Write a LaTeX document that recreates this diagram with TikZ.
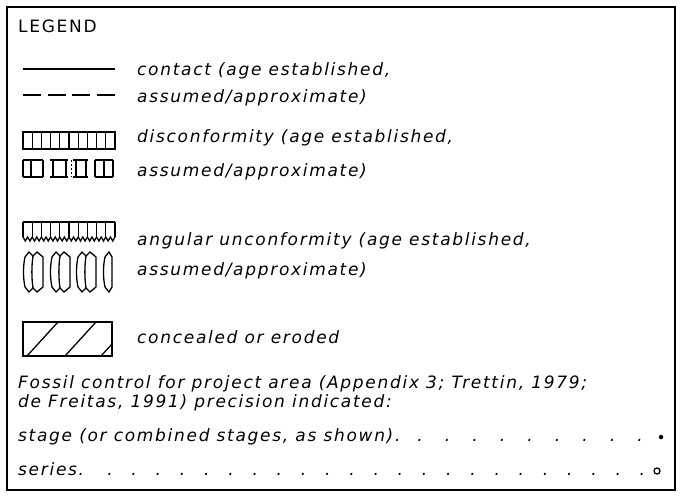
\documentclass[tikz,border=0pt]{standalone}
\usepackage{fontspec}
\setmainfont{DejaVu Sans}[LetterSpace=10]
\usetikzlibrary{positioning}
\usetikzlibrary{calc}

\begin{document}
\begin{tikzpicture}[x=1pt,y=-1pt]
\tikzstyle{legend text}=[anchor=base west,inner sep=0,font=\fontsize{17}{20}\selectfont\itshape]
\tikzstyle{title text}=[anchor=base west,inner sep=0,font=\fontsize{17}{20}\selectfont]
\tikzstyle{leader dot}=[anchor=base,inner sep=0,font=\fontsize{17}{20}\selectfont\itshape]
\tikzset{
  frame line/.style = {line width=1.8pt},
  symbol line/.style = {line width=1.3pt, line join=miter},
  stage mark/.style = {circle,fill=black,inner sep=0,minimum size=4.5pt},
  series mark/.style = {circle,draw=black,line width=1.3pt,inner sep=0,minimum size=6pt}
}
\useasboundingbox (0,0) rectangle (682,498);
\draw[frame line] (7,7) rectangle (675,490);

    \node[title text]   (legend)   at (18,32)   {LEGEND};
    %%%%%%%%%%%%%%%%%%%%%%%%%%%%%%%%%%%
    \node[legend text]  (contact)  at (137,75)  {contact (age established,};
    \node[legend text]  (contactb) at (137,102) {assumed/approximate)};
    \node[legend text]  (discon)   at (137,142) {disconformity (age established,};
    \node[legend text]  (disconb)  at (137,176) {assumed/approximate)};
    \node[legend text]  (angular)  at (137,245) {angular unconformity (age established,};
    \node[legend text]  (angularb) at (137,275) {assumed/approximate)};
    \node[legend text]  (conceal)  at (137,343) {concealed or eroded};
    \node[legend text]  (fossil)   at (18,388)  {Fossil control for project area (Appendix 3; Trettin, 1979;};
    \node[legend text]  (fossilb)  at (18,407)  {de Freitas, 1991) precision indicated:};
    \node[legend text]  (stage)    at (18,441)  {stage (or combined stages, as shown).};
    \node[legend text]  (series)   at (18,475)  {series.};
    \node[stage mark]   (stagem)   at (661,437) {};
    \node[series mark]  (seriesm)  at (657,471) {};
    \foreach \k in {0,...,8}
      \node[leader dot] (sd\k) at ({420+27.5*\k},441) {.};
    \foreach \k in {0,...,22}
      \node[leader dot] (rd\k) at ({110+24.2*\k},475) {.};
    %%%%%%%%%%%%%%%%%%%%%%%%%%%%%%%%%%%
    % contact
    \coordinate (ca) at (23,69);
    \coordinate (cb) at (115,69);
    \coordinate (da) at (23,95);
    \coordinate (db) at (115,95);
    \draw[symbol line] (ca) -- (cb);
    \draw[symbol line,dash pattern=on 18pt off 6.67pt] (da) -- (db);
    % disconformity
    \draw[symbol line] (23,132) rectangle (115,149);
    \foreach \i in {1,...,9}
      \draw[symbol line] ({23+9.2*\i},132) -- ++(0,17);
    \foreach \a/\b in {23/43,50/68,73/88,95/113}
      \draw[symbol line] (\a,160) -- (\b,160) (\a,177) -- (\b,177);
    \foreach \x in {23,31,43,53,66,76,86,95,104,113}
      \draw[symbol line] (\x,160) -- (\x,177);
    \draw[line width=1pt,dash pattern=on 2pt off 2pt] (71,160) -- (71,177);
    % angular unconformity
    \draw[symbol line] (23,222) -- (115,222);
    \foreach \k in {0,...,10}
      \draw[symbol line] ({23+9.2*\k},222) -- ++(0,15);
    \foreach \k in {0,...,9}
      \draw[symbol line] ({23+9.2*\k},237) -- ++(2.3,4) -- ++(2.3,-4) -- ++(2.3,4) -- ++(2.3,-4);
    \foreach \x in {23,50,76}
    {
      \begin{scope}[shift={(\x,252)}]
        \draw[symbol line] (2,5) .. controls (0,14) and (0,26) .. (2,35) -- (6,40) -- (10,36) -- (14,40)
          -- (20,35) -- (20,5) -- (14,0) -- (10,4) -- (6,0) -- cycle;
        \draw[symbol line] (10,4) .. controls (8.5,14) and (8.5,26) .. (10,36);
      \end{scope}
    }
    \begin{scope}[shift={(103,252)}]
      \draw[symbol line] (2,5) .. controls (0,14) and (0,26) .. (2,35) -- (6,40) -- (9,35) -- (9,5) -- (6,0) -- cycle;
    \end{scope}
    % concealed
    \draw[symbol line] (23,322) rectangle (112,356);
    \draw[symbol line] (27,356) -- (58,322) (65,356) -- (96,322) (101,356) -- (112,344);
\end{tikzpicture}
\end{document}
